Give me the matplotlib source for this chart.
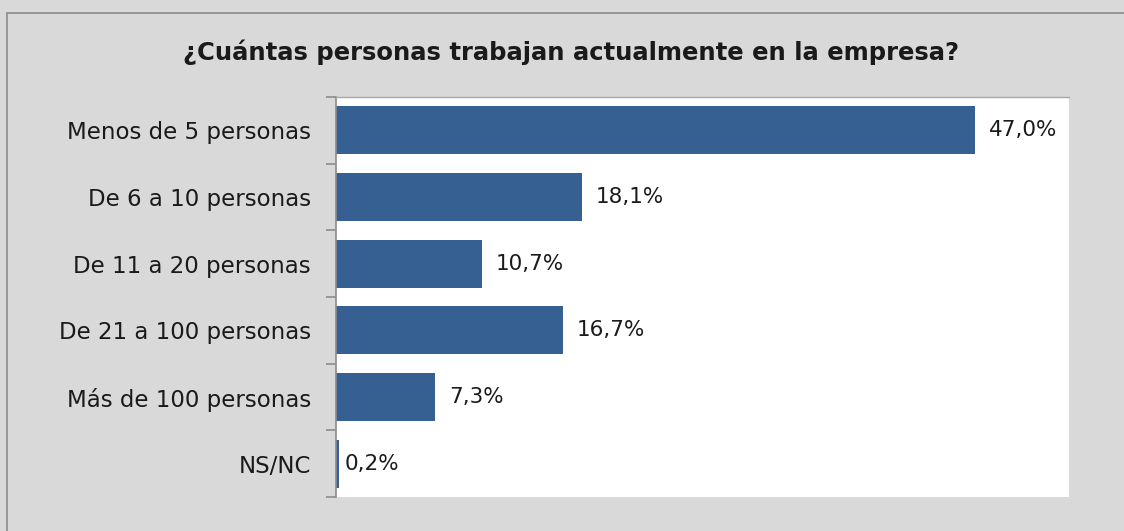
import matplotlib.pyplot as plt
from matplotlib.patches import Rectangle
import numpy as np

categories = ['Menos de 5 personas', 'De 6 a 10 personas', 'De 11 a 20 personas',
              'De 21 a 100 personas', 'Más de 100 personas', 'NS/NC']
values = [47.0, 18.1, 10.7, 16.7, 7.3, 0.2]
labels = ['47,0%', '18,1%', '10,7%', '16,7%', '7,3%', '0,2%']

plt.rcParams['font.family'] = ['DejaVu Sans']

fig = plt.figure(figsize=(11.24, 5.31), dpi=100)
fig.patch.set_facecolor('#D9D9D9')

# outer chart border
fig.patches.append(Rectangle((7 / 1124, -0.05), 1.2, 1 - 13 / 531 + 0.05,
                             transform=fig.transFigure, fill=False,
                             edgecolor='#8C8C8C', linewidth=1.2))

ax = fig.add_axes([336 / 1124, 1 - 497 / 531, (1069 - 336) / 1124, 400 / 531])
ax.set_facecolor('white')

y = np.arange(len(categories))
ax.barh(y, values, height=0.72, color='#366092')
for yi, v, lab in zip(y, values, labels):
    ax.annotate(lab, (v, yi), xytext=(10 if v > 1 else 4, 0), textcoords='offset points',
                va='center', ha='left', fontsize=15.5, color='#1a1a1a')

ax.set_xlim(0, 53.9)
ax.set_ylim(len(categories) - 0.5, -0.5)
ax.set_yticks(y)
ax.set_yticklabels(categories, fontsize=16.5, color='#1a1a1a')
ax.tick_params(axis='y', which='major', length=0, pad=18)
ax.set_yticks(np.arange(-0.5, len(categories)), minor=True)
ax.tick_params(axis='y', which='minor', length=7, color='#8C8C8C', width=1.2)
ax.set_xticks([])
for s in ['right', 'bottom']:
    ax.spines[s].set_visible(False)
ax.spines['top'].set_color('#A6A6A6')
ax.spines['top'].set_linewidth(1.0)
ax.spines['left'].set_color('#8C8C8C')
ax.spines['left'].set_linewidth(1.2)

fig.text(0.508, 1 - 52 / 531, '¿Cuántas personas trabajan actualmente en la empresa?',
         ha='center', va='center', fontsize=17.5, fontweight='bold', color='#1a1a1a')

fig.savefig('out.png', dpi=100, facecolor=fig.get_facecolor())
